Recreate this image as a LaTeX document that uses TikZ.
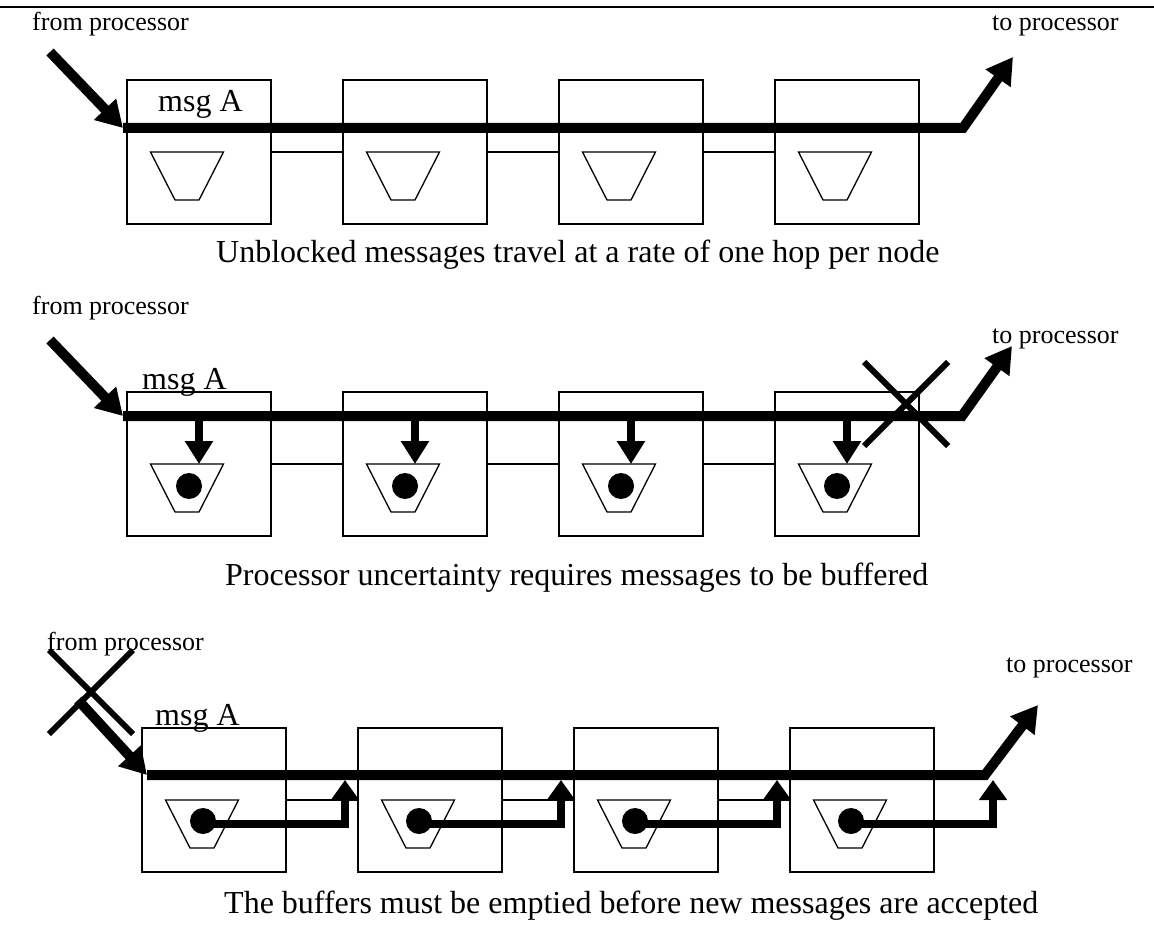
\documentclass[tikz,border=0pt]{standalone}
\usepackage{fontspec}
\setmainfont{Liberation Serif}
\usetikzlibrary{arrows.meta,calc,positioning,shapes.misc}

% funnel shaped buffer, centred on a named coordinate
\newcommand{\buffer}[1]{\draw[buf] ($(#1)+(-36.5,-24)$) -- ++(73,0) -- ++(-24.5,48) -- ++(-24,0) -- cycle;}

\begin{document}
\begin{tikzpicture}[x=1pt,y=-1pt,node distance=216pt,>={Triangle[length=26pt,width=29pt]}]
 \tikzstyle{cell}=[draw, line width=1.6pt, minimum size=144pt, inner sep=0pt, outer sep=0pt]
 \tikzstyle{buf}=[line width=1.3pt, line join=miter]
 \tikzstyle{token}=[fill, circle, minimum size=26pt, inner sep=0pt]
 \tikzstyle{link}=[line width=1.6pt]
 \tikzstyle{bus}=[line width=10pt]
 \tikzstyle{drop}=[line width=8pt, -{Triangle[length=23pt,width=27pt]}]
 \tikzstyle{ret}=[line width=8pt, -{Triangle[length=20pt,width=27pt]}]
 \tikzstyle{blocked}=[draw, cross out, minimum size=78pt, inner sep=0pt, line width=6pt]
 \tikzstyle{lab}=[inner sep=0pt, anchor=base west, font=\fontsize{26}{30}\selectfont]
 \tikzstyle{big}=[inner sep=0pt, anchor=base west, font=\fontsize{32}{38}\selectfont]
 \useasboundingbox (0,0) rectangle (1154,941);
 \draw[line width=2pt] (0,7) -- (1154,7);

 % unblocked
 \node[cell] (a1) at (199,152) {};
 \node[cell] (a2) [right of=a1] {};
 \node[cell] (a3) [right of=a2] {};
 \node[cell] (a4) [right of=a3] {};
 \coordinate (qa1) at ($(a1)+(-12,24)$); \buffer{qa1}
 \coordinate (qa2) at ($(a2)+(-12,24)$); \buffer{qa2}
 \coordinate (qa3) at ($(a3)+(-12,24)$); \buffer{qa3}
 \coordinate (qa4) at ($(a4)+(-12,24)$); \buffer{qa4}
 \path[link] ($(a1.north east)+(0,72)$) edge ($(a2.north west)+(0,72)$)
             ($(a2.north east)+(0,72)$) edge ($(a3.north west)+(0,72)$)
             ($(a3.north east)+(0,72)$) edge ($(a4.north west)+(0,72)$);
 \node[lab] (srca) at (32,31) {from processor};
 \node[lab] (dsta) at (992,31) {to processor};
 \node[big] (msga) at (158,112) {msg A};
 \node[big] (capa) at (216,263) {Unblocked messages travel at a rate of one hop per node};
 \coordinate (ina) at (50,52);
 \coordinate (sa) at (123,128);
 \coordinate (ka) at (963,128);
 \coordinate (oa) at (1013,57);
 \draw[bus,->] (sa) -- (ka) -- (oa);
 \draw[bus,->] (ina) -- (sa);

 % buffered
 \node[cell] (b1) at (199,464) {};
 \node[cell] (b2) [right of=b1] {};
 \node[cell] (b3) [right of=b2] {};
 \node[cell] (b4) [right of=b3] {};
 \coordinate (qb1) at ($(b1)+(-12,24)$); \buffer{qb1}
 \coordinate (qb2) at ($(b2)+(-12,24)$); \buffer{qb2}
 \coordinate (qb3) at ($(b3)+(-12,24)$); \buffer{qb3}
 \coordinate (qb4) at ($(b4)+(-12,24)$); \buffer{qb4}
 \node[token] (db1) at ($(b1)+(-10,22)$) {};
 \node[token] (db2) at ($(b2)+(-10,22)$) {};
 \node[token] (db3) at ($(b3)+(-10,22)$) {};
 \node[token] (db4) at ($(b4)+(-10,22)$) {};
 \path[link] ($(b1.north east)+(0,72)$) edge ($(b2.north west)+(0,72)$)
             ($(b2.north east)+(0,72)$) edge ($(b3.north west)+(0,72)$)
             ($(b3.north east)+(0,72)$) edge ($(b4.north west)+(0,72)$);
 \node[lab] (srcb) at (32,315) {from processor};
 \node[lab] (dstb) at (992,343) {to processor};
 \node[big] (msgb) at (142,389) {msg A};
 \node[big] (capb) at (225,585) {Processor uncertainty requires messages to be buffered};
 \coordinate (inb) at (50,340);
 \coordinate (sb) at (123,416);
 \coordinate (kb) at (962,416);
 \coordinate (ob) at (1012,346);
 \draw[bus,->] (sb) -- (kb) -- (ob);
 \draw[bus,->] (inb) -- (sb);
 \draw[drop] (b1 |- sb) -- (b1.center);
 \draw[drop] (b2 |- sb) -- (b2.center);
 \draw[drop] (b3 |- sb) -- (b3.center);
 \draw[drop] (b4 |- sb) -- (b4.center);
 \node[blocked] (xb) at (906,404) {};

 % emptying
 \node[cell] (c1) at (214,800) {};
 \node[cell] (c2) [right of=c1] {};
 \node[cell] (c3) [right of=c2] {};
 \node[cell] (c4) [right of=c3] {};
 \coordinate (qc1) at ($(c1)+(-12,24)$); \buffer{qc1}
 \coordinate (qc2) at ($(c2)+(-12,24)$); \buffer{qc2}
 \coordinate (qc3) at ($(c3)+(-12,24)$); \buffer{qc3}
 \coordinate (qc4) at ($(c4)+(-12,24)$); \buffer{qc4}
 \node[token] (dc1) at ($(c1)+(-11,21)$) {};
 \node[token] (dc2) at ($(c2)+(-11,21)$) {};
 \node[token] (dc3) at ($(c3)+(-11,21)$) {};
 \node[token] (dc4) at ($(c4)+(-11,21)$) {};
 \path[link] ($(c1.north east)+(0,72)$) edge ($(c2.north west)+(0,72)$)
             ($(c2.north east)+(0,72)$) edge ($(c3.north west)+(0,72)$)
             ($(c3.north east)+(0,72)$) edge ($(c4.north west)+(0,72)$);
 \node[lab] (srcc) at (47,650) {from processor};
 \node[lab] (dstc) at (1006,672) {to processor};
 \node[big] (msgc) at (155,725) {msg A};
 \node[big] (capc) at (224,913) {The buffers must be emptied before new messages are accepted};
 \coordinate (inc) at (78,700);
 \coordinate (sc) at (147,775);
 \coordinate (kc) at (985,775);
 \coordinate (oc) at (1038,705);
 \coordinate (u1) at ($(c1)+(131,-20)$);
 \coordinate (u2) at ($(c2)+(131,-20)$);
 \coordinate (u3) at ($(c3)+(131,-20)$);
 \coordinate (u4) at ($(c4)+(131,-20)$);
 \draw[bus,->] (sc) -- (kc) -- (oc);
 \node[blocked] (xc) at (91,692) {};
 \draw[bus,->] (inc) -- (sc);
 \draw[ret] ([yshift=-3pt]dc1.center) -| (u1);
 \draw[ret] ([yshift=-3pt]dc2.center) -| (u2);
 \draw[ret] ([yshift=-3pt]dc3.center) -| (u3);
 \draw[ret] ([yshift=-3pt]dc4.center) -| (u4);
\end{tikzpicture}
\end{document}
